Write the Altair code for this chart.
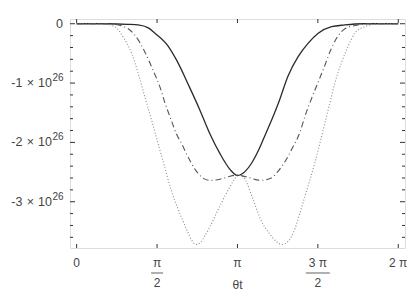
import math
import altair as alt
import pandas as pd

PI = math.pi

# ---- data (y in units of 1e26) ----
solid_x = [0, 0.6, 1.0, 1.2, 1.4, 1.53, 1.79, 1.95, 2.2, 2.4, 2.6, 2.8, 3.0, 3.1416,
           3.25, 3.41, 3.56, 3.70, 3.84, 3.95, 4.13, 4.33, 4.52, 4.72, 4.98, 5.24, 5.6, 6.2832]
solid_y = [0, 0, -0.01, -0.02, -0.07, -0.16, -0.38, -0.61, -1.06, -1.44, -1.85, -2.19, -2.46, -2.56,
           -2.52, -2.36, -2.12, -1.84, -1.56, -1.32, -0.88, -0.55, -0.33, -0.16, -0.05, -0.02, 0, 0]

dashdot_x = [0, 0.5, 0.75, 0.9, 1.0, 1.135, 1.33, 1.49, 1.625, 1.72, 1.85, 1.95, 2.05, 2.15, 2.31,
             2.45, 2.60, 2.80, 2.96, 3.1416, 3.31, 3.60, 3.80, 3.95, 4.10, 4.20, 4.365, 4.46, 4.58,
             4.72, 4.85, 4.97, 5.11, 5.25, 5.44, 5.65, 6.2832]
dashdot_y = [0, 0, -0.01, -0.04, -0.08, -0.19, -0.47, -0.78, -1.06, -1.32, -1.63, -1.86, -2.02, -2.20, -2.45,
             -2.59, -2.64, -2.62, -2.58, -2.55, -2.58, -2.64, -2.60, -2.47, -2.28, -2.12, -1.82, -1.56, -1.28,
             -0.98, -0.70, -0.43, -0.20, -0.08, -0.03, 0, 0]

dotted_x = [0, 0.5, 0.744, 0.94, 1.07, 1.20, 1.331, 1.462, 1.591, 1.722, 1.853, 1.97, 2.055, 2.17, 2.25,
            2.33, 2.43, 2.50, 2.60, 2.70, 2.80, 2.90, 3.0, 3.09, 3.1416, 3.25, 3.45, 3.60, 3.76, 3.90,
            4.01, 4.13, 4.23, 4.38, 4.457, 4.555, 4.652, 4.75, 4.848, 4.946, 5.044, 5.173, 5.304, 5.435,
            5.631, 5.9, 6.2832]
dotted_y = [0, 0, -0.05, -0.27, -0.49, -0.83, -1.23, -1.62, -2.02, -2.42, -2.82, -3.10, -3.28, -3.51, -3.65,
            -3.72, -3.68, -3.58, -3.43, -3.25, -3.07, -2.90, -2.74, -2.61, -2.55, -2.58, -2.97, -3.31, -3.53, -3.67,
            -3.72, -3.67, -3.53, -3.14, -2.92, -2.64, -2.35, -2.02, -1.68, -1.34, -1.00, -0.66, -0.38, -0.16,
            -0.05, 0, 0]

x_tick_values = [0, PI / 2, PI, 3 * PI / 2, 2 * PI]
x_tick_numerators = ["0", "π", "π", "3 π", "2 π"]
x_tick_denominators = ["", "2", "", "2", ""]
y_tick_values = [0, -1, -2, -3]
y_tick_mantissa = ["0", "-1\u2004×\u200410", "-2\u2004×\u200410", "-3\u2004×\u200410"]
y_tick_exponent = ["", "26", "26", "26"]
y_minor_values = [-0.2, -0.4, -0.6, -0.8, -1.2, -1.4, -1.6, -1.8, -2.2, -2.4, -2.6, -2.8,
                  -3.2, -3.4, -3.6]
x_title = "θt"

# ---- layout ----
W, H = 335, 229
x_dom = [-0.13, 6.415]
y_dom = [-3.78, 0.08]
FONT = "Liberation Sans"
TXT = "#444"
TICK = "#333"

xs = alt.Scale(domain=x_dom, nice=False, zero=False)
ys = alt.Scale(domain=y_dom, nice=False, zero=False)


def X(f):
    return alt.X(f, type="quantitative", scale=xs, axis=None)


def Y(f):
    return alt.Y(f, type="quantitative", scale=ys, axis=None)


df_solid = pd.DataFrame({"x": solid_x, "y": solid_y})
df_dd = pd.DataFrame({"x": dashdot_x, "y": dashdot_y})
df_dot = pd.DataFrame({"x": dotted_x, "y": dotted_y})

solid = alt.Chart(df_solid).mark_line(color="#2a2a2a", strokeWidth=1.3, interpolate="monotone").encode(
    x=X("x"), y=Y("y"))
dashdot = alt.Chart(df_dd).mark_line(color="#555", strokeWidth=1.1, strokeDash=[6, 3, 1, 3],
                                     interpolate="monotone").encode(x=X("x"), y=Y("y"))
dotted = alt.Chart(df_dot).mark_line(color="#8a8a8a", strokeWidth=1.1, strokeDash=[1, 2],
                                     interpolate="monotone").encode(x=X("x"), y=Y("y"))

df_ymaj = pd.DataFrame({"v": y_tick_values, "m": y_tick_mantissa, "e": y_tick_exponent})
df_ymin = pd.DataFrame({"v": y_minor_values})
df_xmaj = pd.DataFrame({"v": x_tick_values, "num": x_tick_numerators, "den": x_tick_denominators})


def yticks(df, x0, x1):
    return alt.Chart(df).mark_rule(color=TICK, strokeWidth=1).encode(
        y=Y("v"), x=alt.value(x0), x2=alt.value(x1))


def xticks(df, y0, y1):
    return alt.Chart(df).mark_rule(color=TICK, strokeWidth=1).encode(
        x=X("v"), y=alt.value(y0), y2=alt.value(y1))


ticks = [
    yticks(df_ymaj, 0, 5), yticks(df_ymin, 0, 3),
    yticks(df_ymaj, W - 5, W), yticks(df_ymin, W - 3, W),
    xticks(df_xmaj, H, H - 4), xticks(df_xmaj, 0, 4),
]

# x tick labels: numerator, fraction bar, denominator
x_num = alt.Chart(df_xmaj).mark_text(
    font=FONT, fontSize=12, color=TXT, align="center", baseline="middle"
).encode(x=X("v"), y=alt.value(H + 15), text="num:N")
x_den = alt.Chart(df_xmaj).transform_filter("datum.den != ''").mark_text(
    font=FONT, fontSize=12, color=TXT, align="center", baseline="middle"
).encode(x=X("v"), y=alt.value(H + 35), text="den:N")
bar_short = alt.Chart(df_xmaj).transform_filter("datum.den != '' && datum.num == 'π'").mark_tick(
    orient="horizontal", size=12, thickness=1.2, color=TXT
).encode(x=X("v"), y=alt.value(H + 25))
bar_long = alt.Chart(df_xmaj).transform_filter("datum.den != '' && datum.num != 'π'").mark_tick(
    orient="horizontal", size=24, thickness=1.2, color=TXT
).encode(x=X("v"), y=alt.value(H + 25))

# y tick labels: mantissa with superscript exponent
y_zero = alt.Chart(df_ymaj).transform_filter("datum.e == ''").mark_text(
    font=FONT, fontSize=12.5, color=TXT, align="right", baseline="middle"
).encode(y=Y("v"), x=alt.value(-7), text="m:N")
y_mant = alt.Chart(df_ymaj).transform_filter("datum.e != ''").mark_text(
    font=FONT, fontSize=12.5, color=TXT, align="right", baseline="middle"
).encode(y=Y("v"), x=alt.value(-18), text="m:N")
y_exp = alt.Chart(df_ymaj).transform_filter("datum.e != ''").mark_text(
    font=FONT, fontSize=10, color=TXT, align="left", baseline="middle", dy=-5
).encode(y=Y("v"), x=alt.value(-17.5), text="e:N")

title = alt.Chart(pd.DataFrame({"t": [x_title]})).mark_text(
    font=FONT, fontSize=12, color=TXT, align="center", baseline="middle"
).encode(x=alt.value(W / 2), y=alt.value(H + 37), text="t:N")

chart = alt.layer(solid, dotted, dashdot, *ticks, x_num, x_den, bar_short, bar_long,
                  y_zero, y_mant, y_exp, title).properties(
    width=W, height=H,
    padding={"left": 62, "top": 11, "right": 2, "bottom": 43},
    autosize=alt.AutoSizeParams(type="none"),
).configure_view(stroke="#333", strokeWidth=1).configure(background="white")

chart.save("out.html", embed_options={"renderer": "svg", "actions": False})
